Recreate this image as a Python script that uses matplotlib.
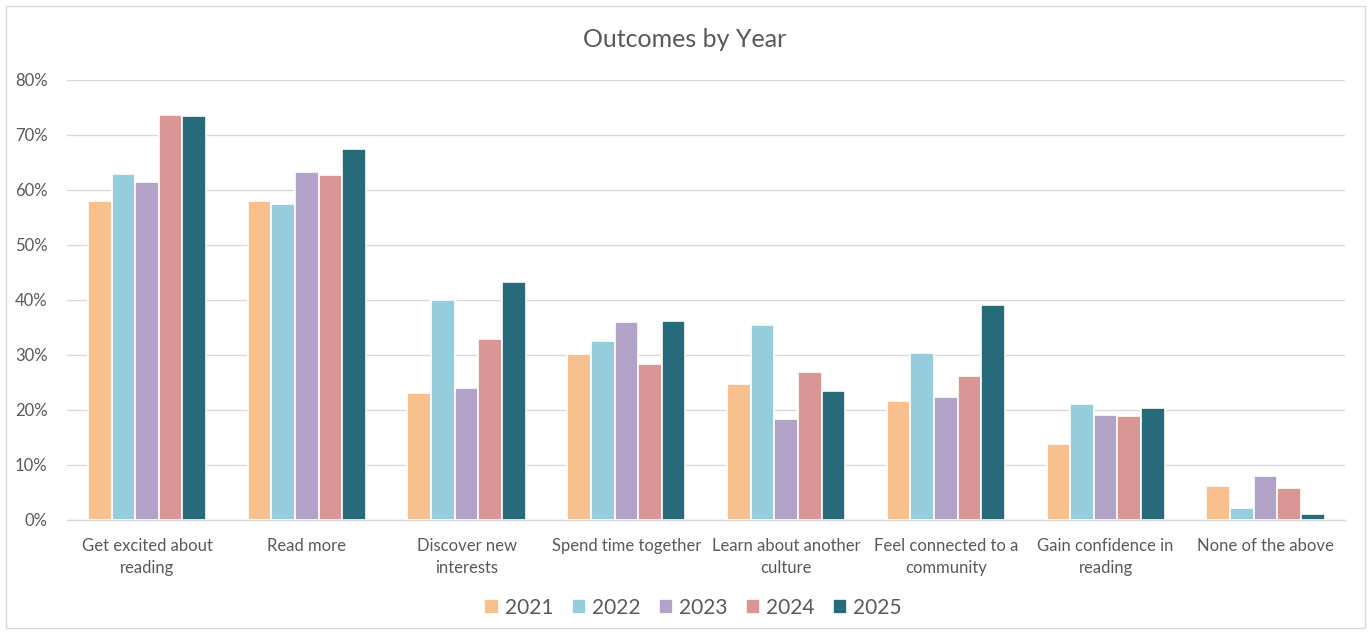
import numpy as np
import matplotlib.pyplot as plt
from matplotlib.patches import Rectangle
from matplotlib.ticker import PercentFormatter

plt.rcParams["font.family"] = ["Lato", "DejaVu Sans"]

categories = [
    "Get excited about\nreading",
    "Read more",
    "Discover new\ninterests",
    "Spend time together",
    "Learn about another\nculture",
    "Feel connected to a\ncommunity",
    "Gain confidence in\nreading",
    "None of the above",
]
years = ["2021", "2022", "2023", "2024", "2025"]

# percent of respondents per outcome
v2021 = [58.0, 58.0, 23.1, 30.2, 24.7, 21.6, 13.8, 6.1]
v2022 = [62.9, 57.5, 40.0, 32.5, 35.5, 30.3, 21.1, 2.2]
v2023 = [61.5, 63.2, 24.0, 36.0, 18.4, 22.3, 19.1, 7.9]
v2024 = [73.7, 62.7, 32.8, 28.4, 26.9, 26.2, 18.9, 5.8]
v2025 = [73.5, 67.5, 43.3, 36.1, 23.4, 39.1, 20.4, 1.1]

series = [v2021, v2022, v2023, v2024, v2025]
colors = ["#F9C08F", "#96CDDD", "#B3A2C7", "#DA9694", "#276A7A"]

fig = plt.figure(figsize=(13.7, 6.34), dpi=100)
ax = fig.add_axes([0.049, 0.180, 0.933, 0.694])

x = np.arange(len(categories))
slot = 0.148
for i, (vals, col, yr) in enumerate(zip(series, colors, years)):
    ax.bar(x + (i - 2) * slot, vals, width=slot, color=col,
           edgecolor="white", linewidth=1.2, label=yr, zorder=3)

ax.set_xlim(-0.5, len(categories) - 0.5)
ax.set_ylim(0, 80)
ax.set_yticks(np.arange(0, 81, 10))
ax.yaxis.set_major_formatter(PercentFormatter(decimals=0))
ax.set_xticks(x)
ax.set_xticklabels(categories, fontsize=12, color="#595959", linespacing=1.45)
ax.tick_params(axis="y", length=0, labelsize=12, labelcolor="#595959", pad=14)
ax.tick_params(axis="x", length=0, pad=13)

ax.grid(axis="y", color="#D9D9D9", linewidth=1, zorder=0)
for side in ["top", "right", "left"]:
    ax.spines[side].set_visible(False)
ax.spines["bottom"].set_color("#D9D9D9")
ax.spines["bottom"].set_linewidth(1)

fig.text(0.5, 0.937, "Outcomes by Year", ha="center", va="center",
         fontsize=18, color="#595959")

fig.legend(loc="center", bbox_to_anchor=(0.506, 0.041), ncol=5, frameon=False,
           fontsize=15, handlelength=0.7, handleheight=0.7, handletextpad=0.3,
           columnspacing=0.85, labelcolor="#595959")

# light frame round the chart area
fig.patches.append(Rectangle((6 / 1370, 6 / 634), 1359 / 1370, 622 / 634,
                             transform=fig.transFigure, fill=False,
                             edgecolor="#D9D9D9", linewidth=1))

fig.savefig("out.png", dpi=100, facecolor="white")
